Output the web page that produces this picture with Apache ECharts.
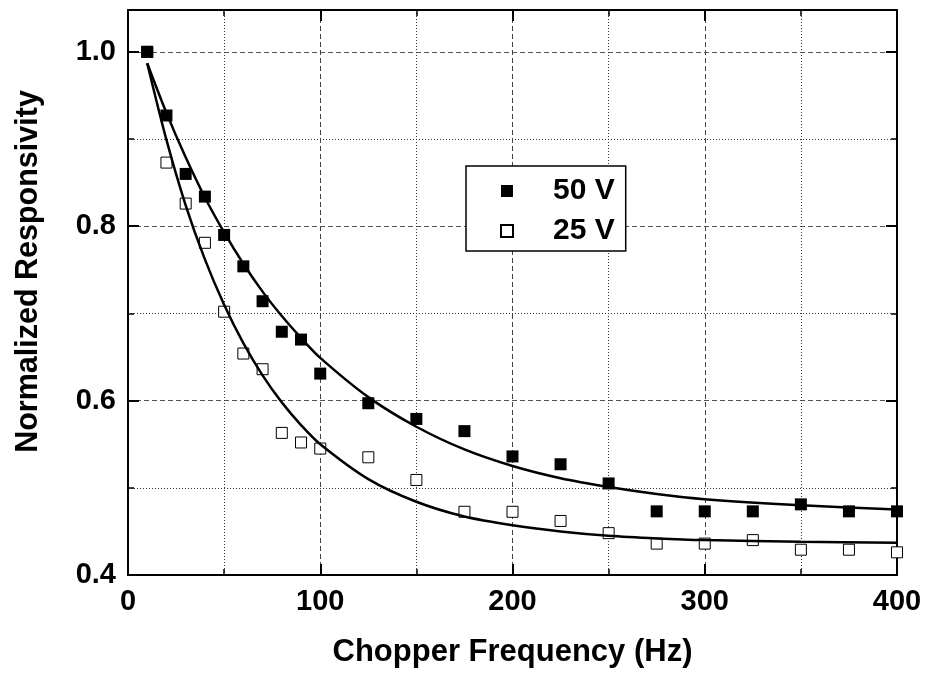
<!DOCTYPE html>
<html>
<head>
<meta charset="utf-8">
<script src="https://cdn.jsdelivr.net/npm/echarts@6/dist/echarts.min.js"></script>
<style>html,body{margin:0;padding:0;background:#fff;}#c{width:928px;height:677px;}</style>
</head>
<body>
<div id="c"></div>
<script>
// ---- data ----
const freq = [10, 20, 30, 40, 50, 60, 70, 80, 90, 100, 125, 150, 175, 200, 225, 250, 275, 300, 325, 350, 375, 400];
const resp50 = [1.000, 0.927, 0.860, 0.834, 0.790, 0.754, 0.714, 0.679, 0.670, 0.631, 0.597, 0.579, 0.565, 0.536, 0.527, 0.505, 0.473, 0.473, 0.473, 0.481, 0.473, 0.473];
const resp25 = [1.000, 0.873, 0.826, 0.781, 0.702, 0.654, 0.636, 0.563, 0.552, 0.545, 0.535, 0.509, 0.4725, 0.4725, 0.462, 0.448, 0.436, 0.436, 0.440, 0.429, 0.429, 0.426];
const fitFreq = [10, 20, 30, 40, 50, 60, 70, 80, 90, 100, 125, 150, 175, 200, 225, 250, 275, 300, 350, 400];
const fit50 = [0.987, 0.930, 0.879, 0.833, 0.793, 0.757, 0.725, 0.697, 0.672, 0.649, 0.604, 0.570, 0.544, 0.525, 0.511, 0.501, 0.493, 0.487, 0.480, 0.475];
const fit25 = [0.987, 0.899, 0.824, 0.762, 0.710, 0.666, 0.629, 0.598, 0.572, 0.550, 0.510, 0.484, 0.467, 0.457, 0.450, 0.445, 0.442, 0.440, 0.438, 0.437];
const yTickLabels = ['0.4', '0.6', '0.8', '1.0'];
const xTickLabels = ['0', '100', '200', '300', '400'];
const seriesNames = ['50 V', '25 V'];
const xTitle = 'Chopper Frequency (Hz)';
const yTitle = 'Normalized Responsivity';

const FONT = "'Liberation Sans', Arial, sans-serif";
const pair = (xs, ys) => xs.map((x, i) => [x, ys[i]]);

const chart = echarts.init(document.getElementById('c'), null, {renderer: 'canvas'});

const axLine = () => ({show: true, onZero: false, lineStyle: {color: '#000', width: 2}});
const tick = () => ({show: true, inside: true, length: 11, lineStyle: {color: '#000', width: 2}});
const minor = () => ({show: true, splitNumber: 2, length: 6, lineStyle: {color: '#000', width: 1.5}});

const option = {
  backgroundColor: '#fff',
  animation: false,
  grid: {left: 128, right: 31, top: 10, bottom: 102, show: false},
  legend: {
    orient: 'vertical',
    left: 466, top: 166,
    padding: [10, 11, 5, 34],
    itemWidth: 12, itemHeight: 12, itemGap: 10,
    backgroundColor: '#fff', borderColor: '#000', borderWidth: 1.5, borderRadius: 0,
    data: [{name: seriesNames[0], icon: 'rect'}, {name: seriesNames[1], icon: 'rect'}],
    formatter: n => '{a|' + n + '}',
    textStyle: {
      fontFamily: FONT, fontWeight: 'bold', fontSize: 30, color: '#000',
      rich: {a: {fontFamily: FONT, fontWeight: 'bold', fontSize: 30, color: '#000', padding: [0, 0, 0, 35]}}
    }
  },
  xAxis: [{
    type: 'value', min: 0, max: 400, interval: 100, position: 'bottom',
    name: xTitle, nameLocation: 'middle', nameGap: 62,
    nameTextStyle: {fontFamily: FONT, fontWeight: 'bold', fontSize: 31, color: '#000'},
    axisLine: axLine(),
    axisTick: tick(),
    minorTick: minor(),
    axisLabel: {fontFamily: FONT, fontWeight: 'bold', fontSize: 29, color: '#000', margin: 12,
      formatter: v => xTickLabels.indexOf(String(v)) >= 0 ? String(v) : ''},
    splitLine: {show: true, lineStyle: {color: '#444', width: 1, type: [5, 3]}},
    minorSplitLine: {show: true, lineStyle: {color: '#333', width: 1, type: [1, 2]}}
  }, {
    type: 'value', min: 0, max: 400, interval: 100, position: 'top',
    axisLine: axLine(), axisTick: tick(), minorTick: minor(),
    axisLabel: {show: false}, splitLine: {show: false}
  }],
  yAxis: [{
    type: 'value', min: 0.4, max: 1.048, interval: 0.2, position: 'left',
    name: yTitle, nameLocation: 'middle', nameGap: 84,
    nameTextStyle: {fontFamily: FONT, fontWeight: 'bold', fontSize: 30.5, color: '#000', padding: [0, 0, 0, 42]},
    axisLine: axLine(),
    axisTick: tick(),
    minorTick: minor(),
    axisLabel: {fontFamily: FONT, fontWeight: 'bold', fontSize: 29, color: '#000', margin: 12,
      formatter: v => { const s = v.toFixed(1); return (Math.abs(v - parseFloat(s)) < 1e-6 && yTickLabels.indexOf(s) >= 0) ? s : ''; }},
    splitLine: {show: true, lineStyle: {color: '#555', width: 1, type: [5, 3]}},
    minorSplitLine: {show: true, lineStyle: {color: '#333', width: 1, type: [1, 2]}}
  }, {
    type: 'value', min: 0.4, max: 1.048, interval: 0.2, position: 'right',
    axisLine: axLine(), axisTick: tick(), minorTick: minor(),
    axisLabel: {show: false}, splitLine: {show: false}
  }],
  series: [
    {
      name: seriesNames[1], type: 'scatter', symbol: 'rect', symbolSize: 11,
      itemStyle: {color: '#fff', borderColor: '#000', borderWidth: 1, opacity: 1},
      data: pair(freq, resp25), z: 2
    },
    {
      name: seriesNames[0], type: 'scatter', symbol: 'rect', symbolSize: 12,
      itemStyle: {color: '#000', borderColor: '#000', borderWidth: 0, opacity: 1},
      data: pair(freq, resp50), z: 3
    },
    {
      name: 'fit50', type: 'line', smooth: 0.3, showSymbol: false, symbol: 'none',
      lineStyle: {color: '#000', width: 2.5}, data: pair(fitFreq, fit50), z: 4
    },
    {
      name: 'fit25', type: 'line', smooth: 0.3, showSymbol: false, symbol: 'none',
      lineStyle: {color: '#000', width: 2.5}, data: pair(fitFreq, fit25), z: 4
    }
  ]
};
chart.setOption(option);
</script>
</body>
</html>
